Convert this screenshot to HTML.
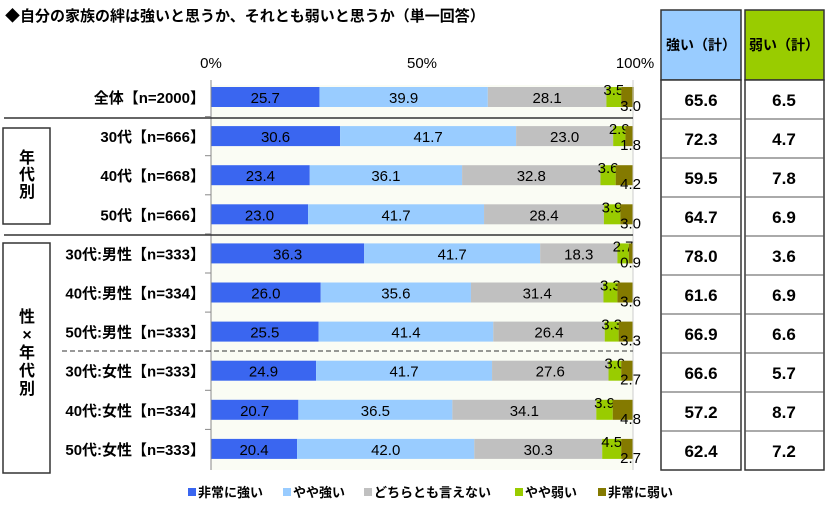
<!DOCTYPE html>
<html><head><meta charset="utf-8">
<style>
body{margin:0;background:#fff;}
svg text{font-family:"Liberation Sans","Noto Sans CJK JP",sans-serif;}
</style></head>
<body>
<svg id="s" width="826" height="524" viewBox="0 0 826 524" xmlns="http://www.w3.org/2000/svg"></svg>
<script>
const s=document.getElementById('s');
let h='';
h+='<text x="5" y="21" font-size="15" font-weight="bold" fill="#000">◆自分の家族の絆は強いと思うか、それとも弱いと思うか（単一回答）</text>';
const X0=211,W=422;
h+=`<rect x="${X0}" y="85" width="${W}" height="385" fill="#fafcf4"/>`;
h+=`<text x="${X0}" y="68" font-size="15" text-anchor="middle">0%</text>`;
h+=`<text x="${X0+W/2}" y="68" font-size="15" text-anchor="middle">50%</text>`;
h+=`<text x="${X0+W+2}" y="68" font-size="15" text-anchor="middle">100%</text>`;
const rows=[
["全体【n=2000】",25.7,39.9,28.1,3.5,3.0,65.6,6.5],
["30代【n=666】",30.6,41.7,23.0,2.9,1.8,72.3,4.7],
["40代【n=668】",23.4,36.1,32.8,3.6,4.2,59.5,7.8],
["50代【n=666】",23.0,41.7,28.4,3.9,3.0,64.7,6.9],
["30代:男性【n=333】",36.3,41.7,18.3,2.7,0.9,78.0,3.6],
["40代:男性【n=334】",26.0,35.6,31.4,3.3,3.6,61.6,6.9],
["50代:男性【n=333】",25.5,41.4,26.4,3.3,3.3,66.9,6.6],
["30代:女性【n=333】",24.9,41.7,27.6,3.0,2.7,66.6,5.7],
["40代:女性【n=334】",20.7,36.5,34.1,3.9,4.8,57.2,8.7],
["50代:女性【n=333】",20.4,42.0,30.3,4.5,2.7,62.4,7.2]];
const cols=["#3a66f0","#99ccff","#c0c0c0","#99cc00","#847a00"];
h+='<rect x="661" y="10" width="80" height="70" fill="#99ccff" stroke="#333" stroke-width="1.5"/>';
h+='<rect x="745" y="10" width="79" height="70" fill="#99cc00" stroke="#333" stroke-width="1.5"/>';
h+='<text x="701" y="50" font-size="14" font-weight="bold" text-anchor="middle">強い（計）</text>';
h+='<text x="784" y="50" font-size="14" font-weight="bold" text-anchor="middle">弱い（計）</text>';
h+='<rect x="661" y="80" width="80" height="390" fill="#fff" stroke="#333" stroke-width="1.5"/>';
h+='<rect x="745" y="80" width="79" height="390" fill="#fff" stroke="#333" stroke-width="1.5"/>';
rows.forEach((r,i)=>{
 const c=97+39.1*i, y=c-10;
 let x=X0;
 for(let k=0;k<5;k++){const w=r[k+1]*W/100;h+=`<rect x="${x}" y="${y}" width="${w}" height="20" fill="${cols[k]}"/>`;
  if(k<3)h+=`<text x="${x+w/2}" y="${c+6}" font-size="15" text-anchor="middle">${r[k+1].toFixed(1)}</text>`;
  if(k==3)h+=`<text x="${x+w/2}" y="${c-2}" font-size="15" text-anchor="middle">${r[4].toFixed(1)}</text>`;
  x+=w;}
 h+=`<text x="641" y="${c+14}" font-size="15" text-anchor="end">${r[5].toFixed(1)}</text>`;
 h+=`<text x="205" y="${c+6}" font-size="15" font-weight="bold" text-anchor="end">${r[0]}</text>`;
 const ty=80+39*i;
 if(i>0){h+=`<line x1="661" y1="${ty}" x2="741" y2="${ty}" stroke="#555"/><line x1="745" y1="${ty}" x2="824" y2="${ty}" stroke="#555"/>`;
  h+=`<line x1="205" y1="${c-19.5}" x2="211" y2="${c-19.5}" stroke="#888"/>`;}
 h+=`<text x="701" y="${ty+26}" font-size="17" font-weight="bold" text-anchor="middle">${r[6].toFixed(1)}</text>`;
 h+=`<text x="784" y="${ty+26}" font-size="17" font-weight="bold" text-anchor="middle">${r[7].toFixed(1)}</text>`;
});
h+=`<line x1="${X0}" y1="80" x2="${X0}" y2="470" stroke="#888"/>`;
h+=`<line x1="${X0+W}" y1="80" x2="${X0+W}" y2="470" stroke="#ccc"/>`;
h+='<line x1="4" y1="118" x2="633" y2="118" stroke="#333" stroke-width="1.5"/>';
h+='<line x1="4" y1="235" x2="633" y2="235" stroke="#333" stroke-width="1.5"/>';
h+='<line x1="62" y1="351" x2="633" y2="351" stroke="#333" stroke-dasharray="5,3"/>';
h+='<rect x="3" y="128" width="47" height="96" fill="#fff" stroke="#333" stroke-width="1.5"/>';
h+='<rect x="3" y="243" width="47" height="230" fill="#fff" stroke="#333" stroke-width="1.5"/>';
['年','代','別'].forEach((t,i)=>h+=`<text x="27" y="${163+i*17}" font-size="16" font-weight="bold" text-anchor="middle">${t}</text>`);
['性','×','年','代','別'].forEach((t,i)=>h+=`<text x="27" y="${322+i*18}" font-size="16" font-weight="bold" text-anchor="middle">${t}</text>`);
const lg=["非常に強い","やや強い","どちらとも言えない","やや弱い","非常に弱い"];
const lx=[188,283,364,515,598];
lg.forEach((t,i)=>{h+=`<rect x="${lx[i]}" y="488" width="8" height="8" fill="${cols[i]}"/><text x="${lx[i]+10}" y="497" font-size="13" font-weight="bold">${t}</text>`;});
s.innerHTML=h;
</script>
</body></html>
